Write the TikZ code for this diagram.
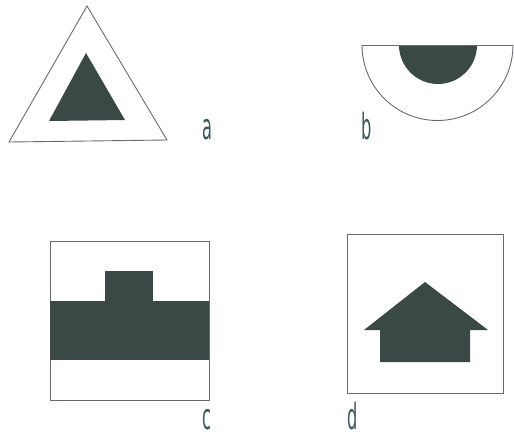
\documentclass[tikz,border=0pt]{standalone}
\usepackage{fontspec}
\newfontfamily\labelfont{DejaVu Sans}
\usepackage{tikz}

\definecolor{darkfill}{RGB}{58,72,70}
\definecolor{edge}{RGB}{105,105,112}
\definecolor{ink}{RGB}{60,88,92}

\tikzset{
  outline/.style={edge, line width=0.9pt},
  lab/.style={ink, inner sep=0pt, xscale=0.45, font=\labelfont\fontsize{36}{36}\selectfont}
}

\begin{document}
\begin{tikzpicture}[x=1pt,y=-1pt]
    \useasboundingbox (0,0) rectangle (514,437);

    % a: triangle in a triangle
    \draw[outline] (9,142) -- (87,6) -- (167,140) -- cycle;
    \fill[darkfill] (49,121) -- (86,53) -- (125,120) -- cycle;
    \node[lab] (la) at (207,130) {a};

    % b: half disc in a half ring
    \fill[darkfill] (399,45) arc[start angle=180, end angle=0, radius=39] -- cycle;
    \draw[outline] (362,45) -- (513,45);
    \draw[outline] (362,45) arc[start angle=180, end angle=0, radius=75.5];
    \node[lab] (lb) at (367,126) {b};

    % c: band with a block on top
    \draw[outline] (50,241) rectangle (209,400);
    \fill[darkfill] (50,301) rectangle (209,360);
    \fill[darkfill] (105,271) rectangle (153,302);
    \node[lab] (lc) at (207,420) {c};

    % d: house shape
    \draw[outline] (347,234) rectangle (503,393);
    \fill[darkfill] (380,362) -- (380,330) -- (364,330) -- (425,282)
        -- (488,330) -- (470,330) -- (470,362) -- cycle;
    \node[lab] (ld) at (353,416) {d};
\end{tikzpicture}
\end{document}
